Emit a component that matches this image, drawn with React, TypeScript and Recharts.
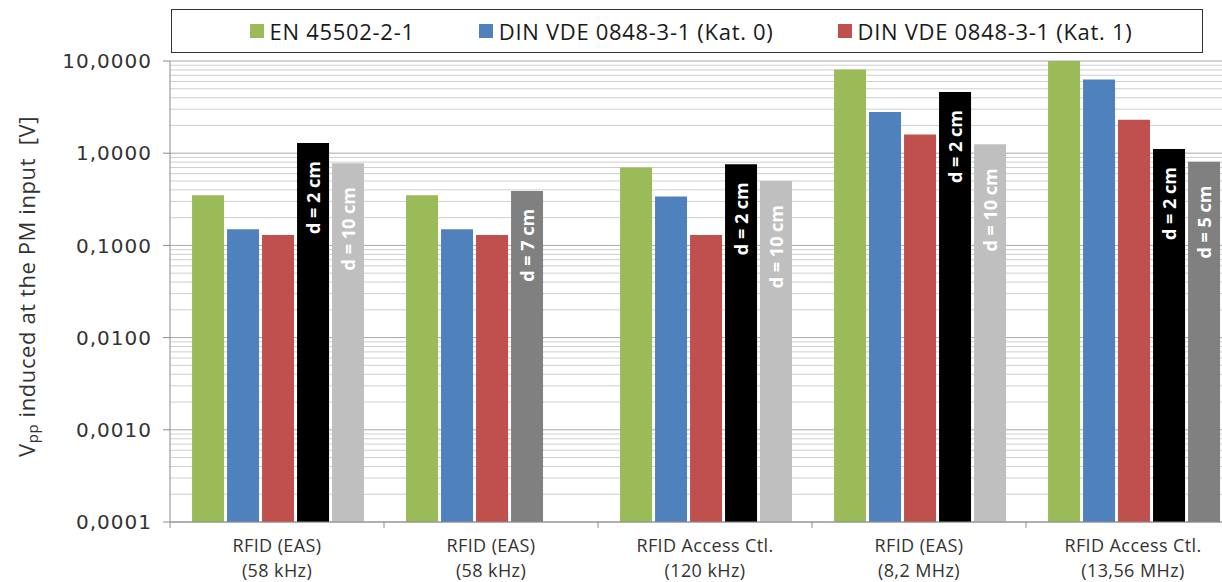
import React from 'react';
import { BarChart, Bar, XAxis, YAxis, CartesianGrid, Cell, LabelList } from 'recharts';

// ---- data ----
const catLine1 = ['RFID (EAS)', 'RFID (EAS)', 'RFID Access Ctl.', 'RFID (EAS)', 'RFID Access Ctl.'];
const catLine2 = ['(58 kHz)', '(58 kHz)', '(120 kHz)', '(8,2 MHz)', '(13,56 MHz)'];

const en45502 = [0.35, 0.35, 0.7, 8.1, 10];
const dinKat0 = [0.15, 0.15, 0.34, 2.8, 6.3];
const dinKat1 = [0.13, 0.13, 0.13, 1.6, 2.3];
const meas1 = [1.29, 0.39, 0.76, 4.6, 1.11];
const meas1Labels = ['d = 2 cm', 'd = 7 cm', 'd = 2 cm', 'd = 2 cm', 'd = 2 cm'];
const meas1Colors = ['#000000', '#808080', '#000000', '#000000', '#000000'];
const meas2: (number | null)[] = [0.78, null, 0.5, 1.25, 0.81];
const meas2Labels = ['d = 10 cm', '', 'd = 10 cm', 'd = 10 cm', 'd = 5 cm'];
const meas2Colors = ['#BFBFBF', '#BFBFBF', '#BFBFBF', '#BFBFBF', '#808080'];

const seriesNames = ['EN 45502-2-1', 'DIN VDE 0848-3-1 (Kat. 0)', 'DIN VDE 0848-3-1 (Kat. 1)'];
const seriesColors = ['#9BBB59', '#4F81BD', '#C0504D'];

const yTicks = [0.0001, 0.001, 0.01, 0.1, 1, 10];
const yTickLabels = ['0,0001', '0,0010', '0,0100', '0,1000', '1,0000', '10,0000'];
const minorMultipliers = [2, 3, 4, 5, 6, 7, 8, 9];
const minorValues: number[] = [];
yTicks.slice(0, -1).forEach((d) => minorMultipliers.forEach((m) => minorValues.push(d * m)));

const rows = catLine1.map((_, i) => ({
  id: 'c' + i,
  en: en45502[i],
  k0: dinKat0[i],
  k1: dinKat1[i],
  m1: meas1[i],
  m1l: meas1Labels[i],
  m2: meas2[i],
  m2l: meas2Labels[i],
}));

const AXIS = '#8c8c8c';
const TXT = '#333333';

const XTick = (props: any) => {
  const { x, y, index } = props;
  const w = Number(props.width);
  const n = Number(props.visibleTicksCount);
  const half = w > 0 && n > 0 ? w / n / 2 : 107;
  const bx = x - half;
  return (
    <g>
      <line x1={bx} y1={y} x2={bx} y2={y + 6} stroke={AXIS} strokeWidth={1} />
      <text x={x} y={y + 30} textAnchor="middle" fontFamily="'Open Sans'" fontSize={18} letterSpacing={0.4} fill={TXT}>
        {catLine1[index]}
      </text>
      <text x={x} y={y + 55} textAnchor="middle" fontFamily="'Open Sans'" fontSize={18} letterSpacing={0.4} fill={TXT}>
        {catLine2[index]}
      </text>
    </g>
  );
};

const YTitle = (props: any) => {
  const vb = props.viewBox || {};
  const cy = vb.y !== undefined ? vb.y + vb.height / 2 - 5 : 286;
  const cx = 26;
  return (
    <text
      x={cx}
      y={cy}
      transform={`rotate(-90 ${cx} ${cy})`}
      textAnchor="middle"
      dominantBaseline="central"
      fontFamily="'Open Sans'"
      fontSize={22}
      letterSpacing={0.6}
      fill={TXT}
    >
      <tspan>V</tspan>
      <tspan fontSize={15} dy={6}>pp</tspan>
      <tspan dy={-6}>{' induced at the PM input\u00A0\u00A0[V]'}</tspan>
    </text>
  );
};

const makeBarLabel = (gap: number) => (props: any) => {
  const vb = props.viewBox || props;
  const text = props.value;
  if (!text) return null;
  const x = Number(vb.x);
  const y = Number(vb.y);
  const width = Number(vb.width);
  const cx = x + width / 2;
  const ty = y + gap;
  return (
    <text
      x={cx}
      y={ty}
      transform={`rotate(-90 ${cx} ${ty})`}
      textAnchor="end"
      dominantBaseline="central"
      fill="#ffffff"
      fontWeight="bold"
      fontSize={18}
      fontFamily="'Open Sans'"
    >
      {text}
    </text>
  );
};

const LegendBox = () => (
  <div
    style={{
      position: 'absolute',
      left: 171,
      top: 9,
      width: 1032,
      height: 44,
      boxSizing: 'border-box',
      border: '1px solid #333',
      background: '#fff',
      display: 'flex',
      alignItems: 'center',
      justifyContent: 'center',
      gap: 64,
      fontFamily: "'Open Sans'",
      fontSize: 22,
      letterSpacing: 0.7,
      color: '#1a1a1a',
      paddingLeft: 8,
    }}
  >
    {seriesNames.map((n, i) => (
      <div key={n} style={{ display: 'flex', alignItems: 'center', whiteSpace: 'nowrap' }}>
        <span style={{ display: 'inline-block', width: 14, height: 14, background: seriesColors[i], marginRight: 6 }} />
        <span>{n}</span>
      </div>
    ))}
  </div>
);

export default function App() {
  return (
    <div
      style={{
        position: 'absolute',
        left: 0,
        top: 0,
        width: 1222,
        height: 582,
        overflow: 'hidden',
        background: '#fff',
      }}
    >
      <BarChart
        width={1240}
        height={582}
        data={rows}
        margin={{ top: 61, right: 0, bottom: 0, left: 0 }}
        barCategoryGap="10.3%"
        barGap={3}
      >
        <CartesianGrid vertical={false} horizontalValues={minorValues} stroke="#cfcfcf" />
        <CartesianGrid vertical={false} horizontalValues={yTicks} stroke="#a8a8a8" />
        <XAxis
          dataKey="id"
          height={60}
          interval={0}
          tickSize={0}
          tickMargin={0}
          tickLine={false}
          axisLine={{ stroke: AXIS }}
          tick={<XTick />}
        />
        <YAxis
          width={170}
          type="number"
          scale="log"
          domain={[0.0001, 10]}
          allowDataOverflow
          ticks={yTicks}
          interval={0}
          tickFormatter={(v: number) => {
            const i = yTicks.findIndex((t) => Math.abs(t - v) / t < 1e-6);
            return i >= 0 ? yTickLabels[i] : String(v);
          }}
          tickSize={7}
          tickMargin={11}
          tickLine={{ stroke: AXIS }}
          axisLine={{ stroke: AXIS }}
          tick={{ fontFamily: 'DejaVu Sans', fontSize: 20, letterSpacing: 1, fill: TXT }}
          label={(p: any) => <YTitle {...p} />}
        />
        <Bar dataKey="en" fill={seriesColors[0]} isAnimationActive={false} />
        <Bar dataKey="k0" fill={seriesColors[1]} isAnimationActive={false} />
        <Bar dataKey="k1" fill={seriesColors[2]} isAnimationActive={false} />
        <Bar dataKey="m1" fill="#000" isAnimationActive={false}>
          {rows.map((r, i) => (
            <Cell key={r.id} fill={meas1Colors[i]} />
          ))}
          <LabelList dataKey="m1l" content={makeBarLabel(18)} />
        </Bar>
        <Bar dataKey="m2" fill="#BFBFBF" isAnimationActive={false}>
          {rows.map((r, i) => (
            <Cell key={r.id} fill={meas2Colors[i]} />
          ))}
          <LabelList dataKey="m2l" content={makeBarLabel(24)} />
        </Bar>
      </BarChart>
      <LegendBox />
    </div>
  );
}
